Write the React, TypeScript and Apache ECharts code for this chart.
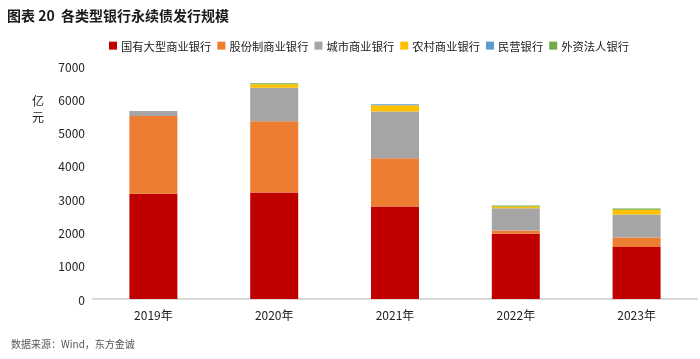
import React, { useEffect, useRef } from "react";
import * as echarts from "echarts";

const categories = ["2019年", "2020年", "2021年", "2022年", "2023年"];
const seriesNames = ["国有大型商业银行", "股份制商业银行", "城市商业银行", "农村商业银行", "民营银行", "外资法人银行"];
const bigBanks = [3160, 3200, 2780, 1960, 1560];
const jointStock = [2340, 2140, 1450, 100, 290];
const cityBanks = [150, 1010, 1400, 670, 690];
const ruralBanks = [0, 100, 190, 50, 140];
const privateBanks = [0, 0, 30, 0, 0];
const foreignBanks = [0, 30, 0, 30, 40];
const colors = ["#C00000", "#ED7D31", "#A5A5A5", "#FFC000", "#5B9BD5", "#70AD47"];

const FONT = "'Noto Sans CJK SC', 'Noto Sans', sans-serif";

export default function App() {
  const ref = useRef<HTMLDivElement>(null);
  useEffect(() => {
    if (!ref.current) return;
    const chart = echarts.init(ref.current, null, { renderer: "svg" });
    const data = [bigBanks, jointStock, cityBanks, ruralBanks, privateBanks, foreignBanks];
    chart.setOption({
      animation: false,
      textStyle: { fontFamily: FONT },
      title: {
        text: "图表 20  各类型银行永续债发行规模",
        left: 2,
        top: 3,
        textStyle: { fontSize: 14, fontWeight: "bold", color: "#1a1a1a", fontFamily: FONT },
      },
      legend: {
        data: seriesNames,
        left: 104,
        top: 35,
        itemWidth: 8,
        itemHeight: 8,
        itemGap: 6,
        icon: "rect",
        textStyle: { fontSize: 11.3, color: "#222", fontFamily: FONT, padding: [0, 0, 0, -1] },
      },
      grid: { left: 93, right: 3, top: 66, bottom: 60, containLabel: false },
      xAxis: {
        type: "category",
        data: categories,
        axisLine: { lineStyle: { color: "#D9D9D9", width: 2 } },
        axisTick: { show: false },
        axisLabel: { fontSize: 12, color: "#222", margin: 9 },
      },
      yAxis: {
        type: "value",
        min: 0,
        max: 7000,
        interval: 1000,
        splitLine: { show: false },
        axisLine: { show: false },
        axisTick: { show: false },
        axisLabel: { fontSize: 12, color: "#222", margin: 8, formatter: (v: number) => String(v) },
      },
      graphic: [
        {
          type: "text",
          left: 32,
          top: 92,
          style: { text: "亿\n元", fontSize: 12, lineHeight: 16, fill: "#222", fontFamily: FONT },
        },
        {
          type: "text",
          left: 11,
          top: 338,
          style: { text: "数据来源：Wind，东方金诚", fontSize: 10, fill: "#555", fontFamily: FONT },
        },
      ],
      series: seriesNames.map((name, i) => ({
        name,
        type: "bar",
        stack: "total",
        barWidth: 48,
        itemStyle: { color: colors[i] },
        data: data[i],
      })),
    });
    return () => chart.dispose();
  }, []);
  return <div ref={ref} style={{ position: "fixed", left: 0, top: 0, width: 700, height: 359 }} />;
}
